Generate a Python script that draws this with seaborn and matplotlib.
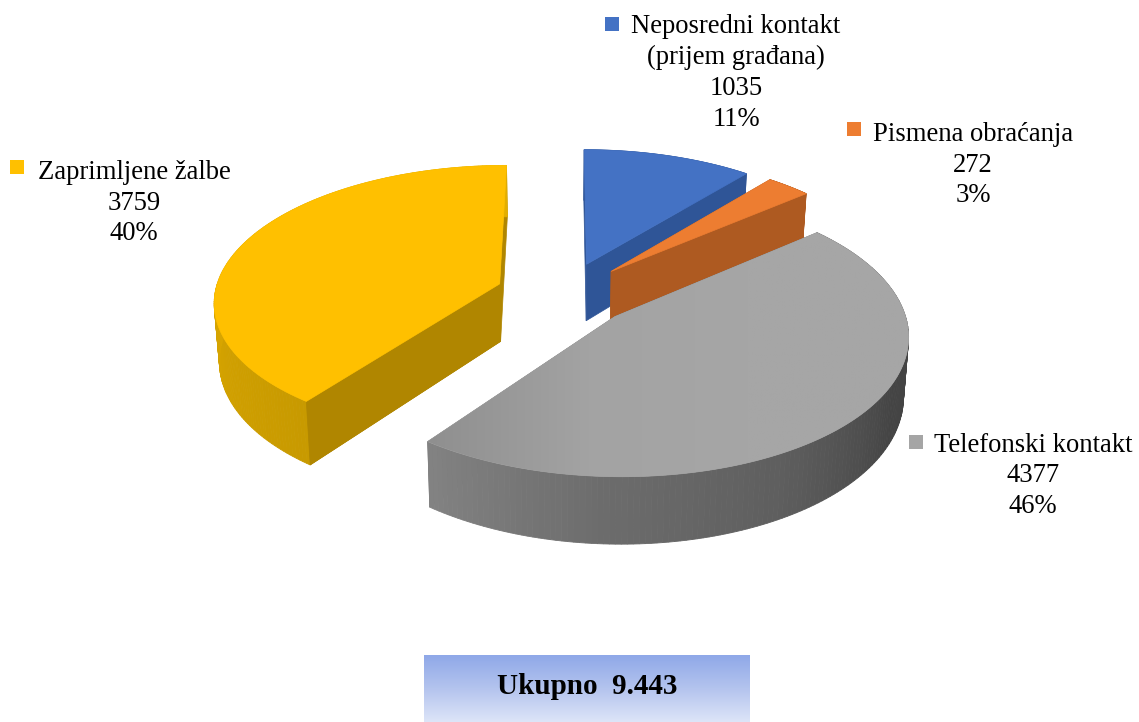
# Struktura predmeta - 3D razmaknuti pie chart
import numpy as np
import seaborn as sns
import matplotlib.pyplot as plt
from matplotlib.patches import Polygon, Rectangle

names = ['Neposredni kontakt\n(prijem građana)', 'Pismena obraćanja', 'Telefonski kontakt', 'Zaprimljene žalbe']
values = [1035, 272, 4377, 3759]
top_colors = ['#4472C4', '#ED7D31', '#A5A5A5', '#FFC000']
cut_colors = ['#2F5597', '#AE5A21', '#6F6F6F', '#B08600']
side_colors = [['#2F5597', '#2F5597'], ['#AE5A21', '#AE5A21'],
               ['#434343', '#434343', '#444444', '#5E5E5E', '#6C6C6C', '#828282'],
               ['#C89A00', '#D6A400', '#E0AC00', '#E2AE00']]
total_label = 'Ukupno  9.443'
box_colors = ['#8FA8E8', '#B4C4EE', '#DDE5F8']

# mjesta natpisa i kvadratica
label_xy = [(736, 73), (973, 165), (1033, 476), (134, 203)]
marker_xy = [(605, 17), (847, 122), (909, 435), (10, 160)]

# parametri projekcije
cx, cy = 564, 294
rx, ry = 285, 135
persp = 0.12
explode = 0.24
depth = 58
bottom_shrink = 0.985

sns.set_theme(style='white')
plt.rcParams['font.family'] = ['Liberation Serif', 'DejaVu Serif']

fig, ax = plt.subplots(figsize=(11.39, 7.22), dpi=100)
fig.subplots_adjust(0, 0, 1, 1)


def project(X, Y, low=False):
    w = 1 + persp * Y
    sx = cx + rx * X / w
    sy = cy - ry * Y / w
    if low:
        sx = cx + (sx - cx) * bottom_shrink
        sy = sy + depth / w
    return np.column_stack([sx, sy])


total = sum(values)
ends = np.cumsum(values) / total * 2 * np.pi
starts = np.concatenate([[0], ends[:-1]])
order = [0, 1, 3, 2]  # redoslijed crtanja: straga prema naprijed

for i in order:
    t = np.linspace(starts[i], ends[i], 160)
    mid = (starts[i] + ends[i]) / 2
    ox, oy = explode * np.sin(mid), explode * np.cos(mid)
    arc_x, arc_y = ox + np.sin(t), oy + np.cos(t)

    # rezne plohe
    for a in [starts[i], ends[i]]:
        ex, ey = np.array([ox, ox + np.sin(a)]), np.array([oy, oy + np.cos(a)])
        pts = np.vstack([project(ex, ey), project(ex, ey, True)[::-1]])
        ax.add_patch(Polygon(pts, fc=cut_colors[i], ec=cut_colors[i], lw=0.5))

    # vanjski rub, traka po traka
    shades = sns.blend_palette(side_colors[i], len(t) - 1)
    up, down = project(arc_x, arc_y), project(arc_x, arc_y, True)
    for j in range(len(t) - 1):
        pts = [up[j], up[j + 1], down[j + 1], down[j]]
        ax.add_patch(Polygon(pts, fc=shades[j], ec=shades[j], lw=0.6))

    # ponovo rez na prednjem kraju zute kriske
    if i == 3:
        a = starts[i]
        ex, ey = np.array([ox, ox + np.sin(a)]), np.array([oy, oy + np.cos(a)])
        pts = np.vstack([project(ex, ey), project(ex, ey, True)[::-1]])
        ax.add_patch(Polygon(pts, fc=cut_colors[i], ec=cut_colors[i], lw=0.5))

    # gornja ploha
    outline = np.vstack([project(np.array([ox]), np.array([oy])), up])
    top = Polygon(outline, fc=top_colors[i], ec=top_colors[i], lw=0.5)
    ax.add_patch(top)
    if i == 2:
        # siva ploha je lijevo malo tamnija
        grey_map = sns.blend_palette(['#8F8F8F', '#A3A3A3', '#A6A6A6', '#A6A6A6'], as_cmap=True)
        im = ax.imshow(np.linspace(0, 1, 256)[None, :], cmap=grey_map, aspect='auto',
                       extent=(outline[:, 0].min(), outline[:, 0].max(), outline[:, 1].max(), outline[:, 1].min()),
                       zorder=top.get_zorder())
        im.set_clip_path(top)

    # natpis i kvadratic
    pct = round(values[i] / total * 100)
    ax.text(label_xy[i][0], label_xy[i][1], f'{names[i]}\n{values[i]}\n{pct}%', ha='center', va='center',
            fontsize=19.2, color='black', linespacing=1.3, zorder=5)
    ax.add_patch(Rectangle(marker_xy[i], 14, 14, fc=top_colors[i], ec='none', zorder=5))

# okvir s ukupnim brojem
box_map = sns.blend_palette(box_colors, as_cmap=True)
ax.imshow(np.linspace(0, 1, 256)[:, None], cmap=box_map, aspect='auto', extent=(424, 750, 722, 655), zorder=4)
ax.text(587, 686, total_label, ha='center', va='center', fontsize=21, fontweight='bold', color='black', zorder=5)

ax.set_xlim(0, 1139)
ax.set_ylim(722, 0)
ax.axis('off')
fig.savefig('out.png', dpi=100)
